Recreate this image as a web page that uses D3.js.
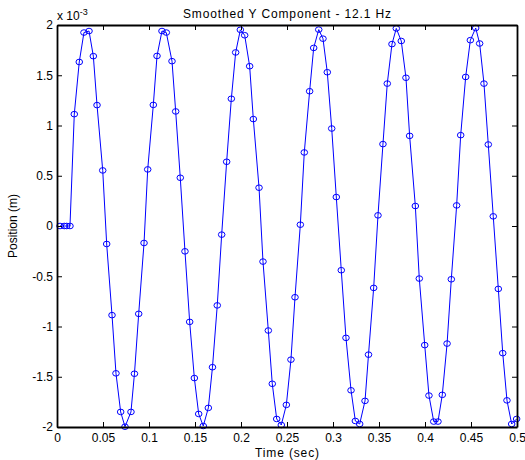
<!DOCTYPE html>
<html>
<head>
<meta charset="utf-8">
<script src="https://cdn.jsdelivr.net/npm/d3@7"></script>
<style>
  html, body { margin: 0; padding: 0; background: #fff; }
  svg { display: block; }
  text { font-family: "Liberation Sans", Arial, Helvetica, sans-serif; fill: #000; }
</style>
</head>
<body>
<svg id="chart" width="525" height="460"></svg>
<script>
// ---- data (time in s, position in units of 1e-3 m) ----
const timeSec = [
  0.0033, 0.0079, 0.0105, 0.0141, 0.0188, 0.0242, 0.0293, 0.0348, 0.0395, 0.0435,
  0.0497, 0.0540, 0.0598, 0.0641, 0.0692, 0.0739, 0.0804, 0.0842, 0.0888, 0.0946,
  0.0986, 0.1047, 0.1087, 0.1141, 0.1188, 0.1250, 0.1290, 0.1340, 0.1391, 0.1442,
  0.1493, 0.1540, 0.1590, 0.1645, 0.1690, 0.1742, 0.1790, 0.1844, 0.1895, 0.1942,
  0.1993, 0.2040, 0.2094, 0.2134, 0.2196, 0.2239, 0.2297, 0.2340, 0.2388, 0.2438,
  0.2493, 0.2543, 0.2587, 0.2645, 0.2688, 0.2746, 0.2790, 0.2845, 0.2891, 0.2938,
  0.2986, 0.3036, 0.3090, 0.3141, 0.3196, 0.3243, 0.3290, 0.3348, 0.3386, 0.3442,
  0.3489, 0.3543, 0.3590, 0.3641, 0.3688, 0.3742, 0.3793, 0.3833, 0.3895, 0.3938,
  0.3997, 0.4043, 0.4095, 0.4141, 0.4188, 0.4240, 0.4286, 0.4344, 0.4388, 0.4442,
  0.4493, 0.4551, 0.4594, 0.4641, 0.4688, 0.4742, 0.4797, 0.4845, 0.4891, 0.4942,
  0.4996
];
const positionE3 = [
  0, 0, 0, 0, 1.113, 1.632, 1.925, 1.940, 1.690, 1.203,
  0.553, -0.179, -0.887, -1.466, -1.850, -1.997, -1.850, -1.470, -0.874, -0.169,
  0.563, 1.205, 1.692, 1.940, 1.925, 1.640, 1.140, 0.480, -0.252, -0.954,
  -1.513, -1.870, -1.990, -1.810, -1.405, -0.790, -0.086, 0.639, 1.266, 1.727,
  1.952, 1.898, 1.590, 1.064, 0.381, -0.354, -1.040, -1.570, -1.920, -1.980,
  -1.780, -1.330, -0.709, 0.013, 0.732, 1.341, 1.772, 1.954, 1.864, 1.530,
  0.970, 0.288, -0.440, -1.113, -1.635, -1.940, -1.970, -1.740, -1.280, -0.616,
  0.106, 0.815, 1.417, 1.810, 1.966, 1.841, 1.475, 0.897, 0.199, -0.523,
  -1.185, -1.687, -1.946, -1.946, -1.680, -1.170, -0.530, 0.205, 0.904, 1.483,
  1.849, 1.970, 1.816, 1.417, 0.811, 0.096, -0.626, -1.265, -1.735, -1.970,
  -1.920
];
const xTicks = [0, 0.05, 0.1, 0.15, 0.2, 0.25, 0.3, 0.35, 0.4, 0.45, 0.5];
const xTickLabels = ["0", "0.05", "0.1", "0.15", "0.2", "0.25", "0.3", "0.35", "0.4", "0.45", "0.5"];
const yTicks = [-2, -1.5, -1, -0.5, 0, 0.5, 1, 1.5, 2];
const yTickLabels = ["-2", "-1.5", "-1", "-0.5", "0", "0.5", "1", "1.5", "2"];
const titleText = "Smoothed Y Component - 12.1 Hz";
const xLabelText = "Time (sec)";
const yLabelText = "Position (m)";

// ---- layout ----
const L = 57, R = 517, T = 25, B = 427;
const svg = d3.select("#chart");
const x = d3.scaleLinear().domain([0, 0.5]).range([L, R]);
const y = d3.scaleLinear().domain([-2, 2]).range([B, T]);
const blue = "#0000ff";
const tickLen = 5;

const data = timeSec.map((t, i) => ({ t, v: positionE3[i] }));

// line
svg.append("path")
  .datum(data)
  .attr("fill", "none")
  .attr("stroke", blue)
  .attr("stroke-width", 1)
  .attr("d", d3.line().x(d => x(d.t)).y(d => y(d.v)));

// markers
svg.append("g").selectAll("ellipse").data(data).join("ellipse")
  .attr("cx", d => x(d.t)).attr("cy", d => y(d.v))
  .attr("rx", 3.3).attr("ry", 2.8)
  .attr("fill", "none").attr("stroke", blue).attr("stroke-width", 1);

// axes (MATLAB box with inward ticks)
const fmtX = (d, i) => xTickLabels[i];
const fmtY = (d, i) => yTickLabels[i];
const axB = svg.append("g").attr("transform", `translate(0,${B})`)
  .call(d3.axisBottom(x).tickValues(xTicks).tickFormat(fmtX).tickSizeInner(-tickLen).tickSizeOuter(0).tickPadding(6));
const axT = svg.append("g").attr("transform", `translate(0,${T})`)
  .call(d3.axisTop(x).tickValues(xTicks).tickFormat("").tickSizeInner(-tickLen).tickSizeOuter(0));
const axL = svg.append("g").attr("transform", `translate(${L},0)`)
  .call(d3.axisLeft(y).tickValues(yTicks).tickFormat(fmtY).tickSizeInner(-tickLen).tickSizeOuter(0).tickPadding(4));
const axR = svg.append("g").attr("transform", `translate(${R},0)`)
  .call(d3.axisRight(y).tickValues(yTicks).tickFormat("").tickSizeInner(-tickLen).tickSizeOuter(0));

[axB, axT, axL, axR].forEach(g => {
  g.selectAll(".domain").attr("stroke", "#000").attr("stroke-width", 1.8);
  g.selectAll(".tick line").attr("stroke", "#000").attr("stroke-width", 1);
  g.selectAll("text").attr("font-family", "Liberation Sans, Arial, sans-serif")
    .attr("font-size", 12).attr("fill", "#000");
});

// title
svg.append("text").attr("x", (L + R) / 2).attr("y", 18)
  .attr("text-anchor", "middle").attr("font-size", 12)
  .attr("textLength", 208).attr("lengthAdjust", "spacing").text(titleText);

// exponent label
const ex = svg.append("text").attr("x", 57).attr("y", 20).attr("font-size", 12);
ex.append("tspan").text("x 10");
ex.append("tspan").attr("dy", -5).attr("font-size", 9).text("-3");

// axis labels
svg.append("text").attr("x", (L + R) / 2).attr("y", 457)
  .attr("text-anchor", "middle").attr("font-size", 12)
  .attr("textLength", 64).attr("lengthAdjust", "spacing").text(xLabelText);
svg.append("text").attr("transform", `translate(17,${(T + B) / 2}) rotate(-90)`)
  .attr("text-anchor", "middle").attr("font-size", 12).text(yLabelText);
</script>
</body>
</html>
